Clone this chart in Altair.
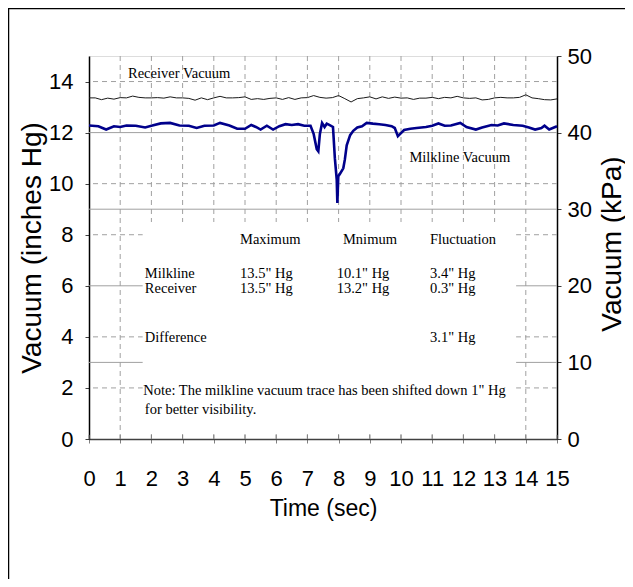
import altair as alt
import pandas as pd

# ---------------- data ----------------
RECV_T = [0.0, 0.2, 0.4, 0.6, 0.8, 1.0, 1.2, 1.4, 1.6, 1.8, 2.0, 2.2, 2.4, 2.6, 2.8,
          3.0, 3.2, 3.4, 3.6, 3.8, 4.0, 4.2, 4.4, 4.6, 4.8, 5.0, 5.2, 5.4, 5.6, 5.8,
          6.0, 6.2, 6.4, 6.6, 6.8, 7.0, 7.2, 7.4, 7.6, 7.8, 8.0, 8.2, 8.4, 8.6, 8.8,
          9.0, 9.2, 9.4, 9.6, 9.8, 10.0, 10.2, 10.4, 10.6, 10.8, 11.0, 11.2, 11.4, 11.6, 11.8,
          12.0, 12.2, 12.4, 12.6, 12.8, 13.0, 13.2, 13.4, 13.6, 13.8, 14.0, 14.2, 14.4, 14.6, 14.8, 15.0]
RECV_V = [13.36, 13.36, 13.29, 13.35, 13.31, 13.37, 13.36, 13.43, 13.38, 13.36, 13.36, 13.37, 13.35, 13.40, 13.36,
          13.36, 13.34, 13.27, 13.36, 13.29, 13.36, 13.42, 13.36, 13.36, 13.37, 13.40, 13.30, 13.33, 13.30, 13.34,
          13.36, 13.30, 13.37, 13.30, 13.36, 13.37, 13.45, 13.38, 13.35, 13.37, 13.45, 13.33, 13.20, 13.33, 13.36,
          13.40, 13.32, 13.40, 13.34, 13.39, 13.35, 13.36, 13.30, 13.35, 13.35, 13.38, 13.33, 13.38, 13.36, 13.42,
          13.36, 13.34, 13.36, 13.28, 13.30, 13.36, 13.38, 13.36, 13.36, 13.38, 13.48, 13.36, 13.33, 13.29, 13.28, 13.32]

MILK_T = [0.0, 0.3, 0.55, 0.8, 1.0, 1.2, 1.5, 1.8, 2.0, 2.3, 2.6, 2.9, 3.2, 3.45, 3.7,
          4.0, 4.2, 4.5, 4.75, 5.0, 5.2, 5.35, 5.5, 5.7, 5.9, 6.1, 6.3, 6.5, 6.7, 6.9,
          7.1, 7.2, 7.3, 7.35, 7.4, 7.47, 7.55, 7.62, 7.7, 7.82, 7.88, 7.94, 7.96, 7.99, 8.04,
          8.15, 8.2, 8.26, 8.37, 8.47, 8.6, 8.75, 8.9, 9.1, 9.3, 9.5, 9.7, 9.8, 9.9, 10.0,
          10.1, 10.3, 10.5, 10.8, 11.0, 11.2, 11.4, 11.6, 11.9, 12.1, 12.4, 12.6, 12.9, 13.1, 13.3,
          13.6, 13.9, 14.1, 14.3, 14.5, 14.6, 14.75, 15.0]
MILK_V = [12.28, 12.25, 12.12, 12.25, 12.22, 12.28, 12.27, 12.20, 12.27, 12.36, 12.38, 12.28, 12.27, 12.18, 12.27,
          12.28, 12.38, 12.28, 12.15, 12.15, 12.30, 12.22, 12.12, 12.27, 12.12, 12.25, 12.33, 12.30, 12.33, 12.27,
          12.27, 11.95, 11.35, 11.27, 11.95, 12.38, 12.22, 12.35, 12.30, 12.22, 11.00, 10.16, 9.24, 10.29, 10.38,
          10.60, 10.94, 11.50, 11.90, 12.07, 12.20, 12.25, 12.38, 12.35, 12.33, 12.30, 12.25, 12.18, 11.86, 11.98,
          12.10, 12.15, 12.18, 12.22, 12.27, 12.36, 12.27, 12.28, 12.38, 12.22, 12.12, 12.20, 12.30, 12.28, 12.36,
          12.30, 12.27, 12.20, 12.12, 12.18, 12.27, 12.12, 12.25]

X_TICKS = list(range(0, 16))
V_GRID = list(range(1, 15))
H_DASH = [2, 4, 8, 10, 14]
H_SOLID = [3, 6, 9, 12]            # = 10, 20, 30, 40 kPa
LEFT_TICKS = [0, 2, 4, 6, 8, 10, 12, 14]
RIGHT_TICKS = [0, 3, 6, 9, 12, 15]  # = 0 .. 50 kPa

ANN_TEXT = ["Receiver Vacuum", "Milkline Vacuum",
            "Maximum", "Mnimum", "Fluctuation",
            "Milkline", "13.5\" Hg", "10.1\" Hg", "3.4\" Hg",
            "Receiver", "13.5\" Hg", "13.2\" Hg", "0.3\" Hg",
            "Difference", "3.1\" Hg",
            "Note: The milkline vacuum trace has been shifted down 1\" Hg",
            "for better visibility."]
ANN_T = [1.25, 10.27,
         4.84, 8.14, 10.93,
         1.79, 4.84, 7.94, 10.93,
         1.79, 4.84, 7.94, 10.93,
         1.79, 10.93,
         1.74, 1.79]
ANN_V = [14.15, 10.86,
         7.63, 7.63, 7.63,
         6.29, 6.29, 6.29, 6.29,
         5.71, 5.71, 5.71, 5.71,
         3.81, 3.81,
         1.72, 0.98]

# ---------------- chart ----------------
W, H = 468, 383
XS = alt.Scale(domain=[0, 15], nice=False, zero=False)
YS = alt.Scale(domain=[0, 15], nice=False, zero=False)
SANS = "Liberation Sans"
SERIF = "Liberation Serif"
GRID = "#a0a0a0"

x_axis = alt.Axis(values=X_TICKS, title="Time (sec)", grid=False,
                  domainColor="#404040", domainWidth=1.5,
                  tickColor="#808080", tickSize=4,
                  labelFont=SANS, labelFontSize=22, labelColor="black",
                  labelPadding=42, labelBaseline="alphabetic",
                  labelOverlap=False, labelFlush=False,
                  titleFont=SANS, titleFontSize=23, titleFontWeight="normal",
                  titleColor="black", titleX=W / 2, titleY=76,
                  titleBaseline="alphabetic", titleAlign="center")
X = alt.X("t:Q", scale=XS, axis=x_axis)

left_axis = alt.Axis(values=LEFT_TICKS, orient="left", grid=False,
                     domainColor="black", domainWidth=1.5,
                     tickColor="#404040", tickSize=4,
                     labelFont=SANS, labelFontSize=22, labelColor="black",
                     labelPadding=12,
                     title="Vacuum (inches Hg)", titleFont=SANS, titleFontSize=28,
                     titleFontWeight="normal", titleColor="black",
                     titleAngle=270, titleX=-57, titleY=H / 2,
                     titleAlign="center", titleBaseline="middle")
right_axis = alt.Axis(values=RIGHT_TICKS, orient="right", grid=False,
                      labelExpr="round(datum.value * 10 / 3)",
                      domainColor="black", domainWidth=1.5,
                      tickColor="#404040", tickSize=4,
                      labelFont=SANS, labelFontSize=22, labelColor="black",
                      labelPadding=6,
                      title="Vacuum (kPa)", titleFont=SANS, titleFontSize=28,
                      titleFontWeight="normal", titleColor="black",
                      titleAngle=270, titleX=55, titleY=H / 2 - 4,
                      titleAlign="center", titleBaseline="middle")

recv_df = pd.DataFrame({"t": RECV_T, "v": RECV_V})
milk_df = pd.DataFrame({"t": MILK_T, "v": MILK_V})
ann_df = pd.DataFrame({"t": ANN_T, "v": ANN_V, "txt": ANN_TEXT})

h_dash = alt.Chart(pd.DataFrame({"v": H_DASH})).mark_rule(
    color=GRID, strokeDash=[5, 4], strokeWidth=1
).encode(y=alt.Y("v:Q", scale=YS, axis=None))

v_grid = alt.Chart(pd.DataFrame({"t": V_GRID})).mark_rule(
    color=GRID, strokeDash=[5, 4], strokeWidth=1
).encode(x=X)

h_solid = alt.Chart(pd.DataFrame({"v": H_SOLID})).mark_rule(
    color=GRID, strokeWidth=1
).encode(y=alt.Y("v:Q", scale=YS, axis=right_axis))

box = alt.Chart(pd.DataFrame({"t": [1.72], "t2": [13.69], "v": [0.25], "v2": [8.5]})).mark_rect(
    color="white"
).encode(x=X, x2="t2:Q", y=alt.Y("v:Q", scale=YS, axis=None), y2="v2:Q")

tick_up = alt.Chart(pd.DataFrame({"t": X_TICKS, "v": [0.0] * 16, "v2": [0.16] * 16})).mark_rule(
    color="#808080", strokeWidth=1
).encode(x=X, y=alt.Y("v:Q", scale=YS, axis=None), y2="v2:Q")

recv = alt.Chart(recv_df).mark_line(color="#1a1a1a", strokeWidth=1).encode(
    x=X, y=alt.Y("v:Q", scale=YS, axis=left_axis))

milk = alt.Chart(milk_df).mark_line(color="#00008b", strokeWidth=2.6).encode(
    x=X, y=alt.Y("v:Q", scale=YS, axis=None))

ann = alt.Chart(ann_df).mark_text(
    align="left", baseline="alphabetic", font=SERIF, fontSize=14.5, color="black"
).encode(x=X, y=alt.Y("v:Q", scale=YS, axis=None), text="txt:N")

frame_left = alt.Chart(alt.Data(values=[{}])).mark_rule(color="black", strokeWidth=1.5).encode(
    x=alt.value(-80.5), y=alt.value(-47.5), y2=alt.value(H + 140))
frame_top = alt.Chart(alt.Data(values=[{}])).mark_rule(color="black", strokeWidth=1.5).encode(
    x=alt.value(-81), x2=alt.value(W + 68), y=alt.value(-47.5))

chart = alt.layer(
    h_dash, v_grid, h_solid, box, tick_up, recv, milk, ann, frame_left, frame_top
).resolve_axis(y="independent").properties(
    width=W, height=H,
    autosize=alt.AutoSizeParams(type="none"),
    padding={"left": 81, "top": 48, "right": 68, "bottom": 140},
).configure_view(stroke="#808080", strokeWidth=1).configure(background="white")

chart.save("out.html", embed_options={"renderer": "svg", "actions": False})
